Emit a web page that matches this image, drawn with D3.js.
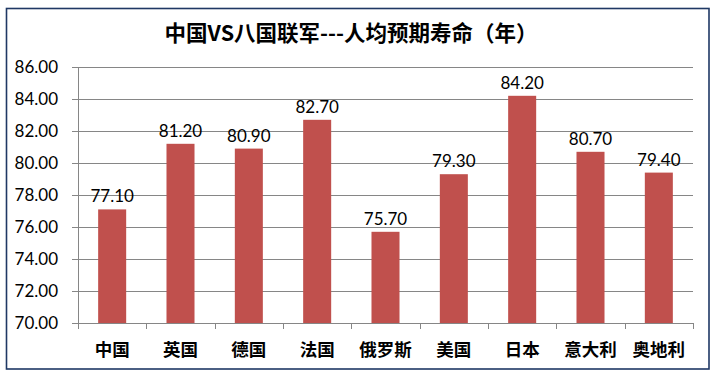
<!DOCTYPE html>
<html><head><meta charset="utf-8">
<script src="https://cdn.jsdelivr.net/npm/d3@7"></script>
<style>
html,body{margin:0;padding:0;background:#fff;}
</style></head>
<body>
<svg id="chart" width="721" height="381"></svg>
<script>
const categories = ["中国","英国","德国","法国","俄罗斯","美国","日本","意大利","奥地利"];
const values = [77.10, 81.20, 80.90, 82.70, 75.70, 79.30, 84.20, 80.70, 79.40];
const yTicks = [70,72,74,76,78,80,82,84,86];
const title = "中国VS八国联军---人均预期寿命（年）";

(function(){
const svg = d3.select("#chart");
const pL = 78, pR = 693, pT = 67, pB = 323;

// border
svg.append("rect").attr("x",6.5).attr("y",8.5).attr("width",702.5).attr("height",360.5)
  .attr("fill","#fff").attr("stroke","#1F3864").attr("stroke-width",1.6);

svg.append("text").attr("x",351).attr("y",41).attr("text-anchor","middle")
  .attr("font-family","'Noto Sans CJK SC', sans-serif").attr("font-weight",700)
  .attr("font-size",21.5).attr("fill","#000").text(title);

const x = d3.scaleBand().domain(categories).range([pL,pR]).paddingInner(0.59).paddingOuter(0.295);
const xOuter = d3.scaleBand().domain(categories).range([pL,pR]);
const y = d3.scaleLinear().domain([70,86]).range([pB,pT]);

// grid
svg.append("g").selectAll("line").data(yTicks).join("line")
  .attr("x1",pL-6).attr("x2",pR).attr("y1",d=>Math.round(y(d))+0.5).attr("y2",d=>Math.round(y(d))+0.5)
  .attr("stroke","#868686").attr("stroke-width",1);

// y axis line
svg.append("line").attr("x1",pL+0.5).attr("x2",pL+0.5).attr("y1",pT).attr("y2",pB+6)
  .attr("stroke","#868686");

// x tick marks
const xt = d3.range(categories.length+1).map(i=>pL + i*(pR-pL)/categories.length);
svg.append("g").selectAll("line").data(xt).join("line")
  .attr("x1",d=>Math.round(d)+0.5).attr("x2",d=>Math.round(d)+0.5).attr("y1",pB).attr("y2",pB+6)
  .attr("stroke","#868686");

// y labels
svg.append("g").selectAll("text").data(yTicks).join("text")
  .attr("x",pL-20).attr("y",d=>y(d)+6).attr("text-anchor","end")
  .attr("font-family","Lato, 'Open Sans', sans-serif").attr("font-size",17).attr("fill","#000")
  .text(d=>d.toFixed(2));

// bars
svg.append("g").selectAll("rect").data(values).join("rect")
  .attr("x",(d,i)=>x(categories[i])).attr("width",x.bandwidth())
  .attr("y",d=>y(d)).attr("height",d=>pB-y(d)).attr("fill","#C0504D");

// value labels
svg.append("g").selectAll("text").data(values).join("text")
  .attr("x",(d,i)=>x(categories[i])+x.bandwidth()/2).attr("y",d=>y(d)-7)
  .attr("text-anchor","middle")
  .attr("font-family","Lato, 'Open Sans', sans-serif").attr("font-size",17).attr("fill","#000")
  .text(d=>d.toFixed(2));

// category labels
svg.append("g").selectAll("text").data(categories).join("text")
  .attr("x",d=>xOuter(d)+xOuter.bandwidth()/2).attr("y",356).attr("text-anchor","middle")
  .attr("font-family","'Noto Sans CJK SC', sans-serif").attr("font-weight",700)
  .attr("font-size",17.5).attr("fill","#000").text(d=>d);
})();
</script>
</body></html>
